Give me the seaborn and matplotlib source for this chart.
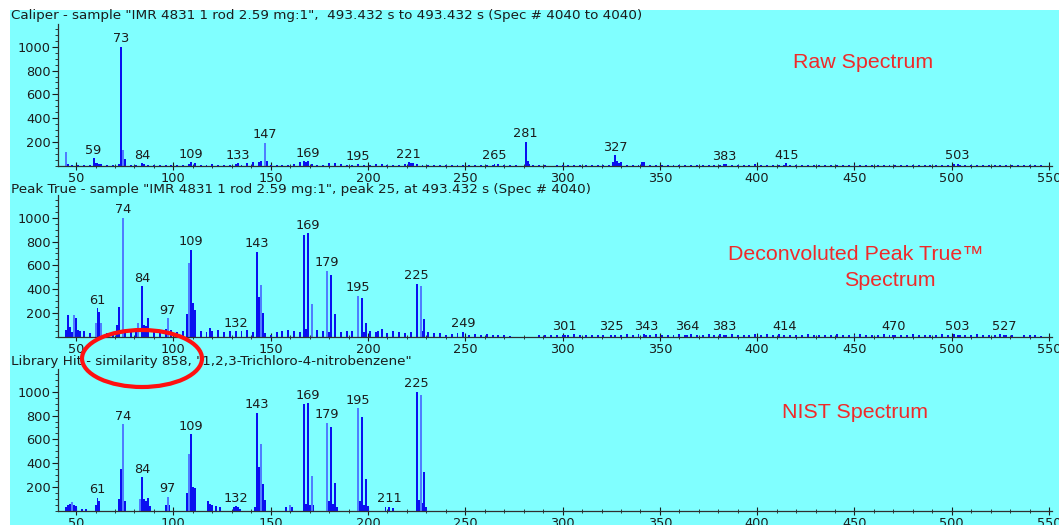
import matplotlib
matplotlib.use('Agg')
import matplotlib.pyplot as plt
from matplotlib.patches import Ellipse, Rectangle
from matplotlib.ticker import MultipleLocator
import seaborn as sns

# ---- Raw spectrum (top) ----
raw_dark_mz = [46, 59, 60, 61, 62, 72, 73, 75, 84, 85, 108, 109, 133, 144, 145, 148,
               167, 169, 183, 195, 207, 221, 223, 265, 281, 282, 283, 326, 327, 328,
               329, 341, 383, 399, 415, 503]
raw_dark_int = [20, 64, 22, 25, 20, 20, 1000, 55, 22, 15, 20, 32, 25, 35, 40, 40,
                40, 42, 25, 15, 20, 30, 22, 18, 205, 40, 20, 30, 92, 40,
                25, 36, 15, 15, 25, 20]
raw_light_mz = [45, 74, 147]
raw_light_int = [117, 136, 194]
# baseline noise, m/z 42, 45, ... 549
raw_noise = [0, 20, 12, 10, 8, 6, 15, 18, 8, 6,
             15, 25, 10, 12, 15, 8, 10, 6, 8, 10,
             8, 10, 20, 22, 12, 10, 15, 8, 6, 10,
             18, 12, 25, 30, 35, 12, 8, 10, 8, 12,
             15, 30, 35, 20, 10, 12, 22, 25, 18, 8,
             12, 10, 8, 12, 18, 10, 8, 10, 12, 15,
             25, 20, 10, 8, 10, 12, 10, 8, 6, 8,
             10, 12, 10, 8, 8, 15, 10, 8, 6, 0,
             30, 10, 8, 6, 0, 8, 10, 8, 6, 8,
             8, 10, 8, 12, 8, 35, 30, 12, 8, 6,
             30, 10, 8, 10, 8, 6, 8, 10, 8, 10,
             8, 10, 8, 12, 15, 10, 8, 10, 12, 15,
             10, 8, 12, 10, 8, 10, 12, 8, 6, 8,
             8, 10, 6, 8, 10, 8, 6, 8, 10, 8,
             6, 8, 10, 8, 6, 8, 10, 8, 6, 8,
             10, 8, 12, 15, 12, 10, 8, 6, 8, 10,
             8, 6, 8, 10, 8, 6, 8, 10, 6, 0]
raw_labels = [59, 73, 84, 109, 133, 147, 169, 195, 221, 265, 281, 327, 383, 415, 503]

# ---- Deconvoluted Peak True spectrum (middle) ----
pt_dark_mz = [46, 47, 50, 52, 61, 62, 71, 72, 84, 85, 86, 87, 96, 107, 109, 110, 111,
              119, 132, 143, 144, 146, 167, 169, 181, 183, 197, 199, 205, 225, 229,
              249, 301, 325, 343, 364, 383, 414, 470, 503, 527]
pt_dark_int = [183, 87, 157, 50, 242, 213, 100, 250, 424, 100, 90, 160, 70, 194, 733, 284, 228,
               78, 50, 716, 334, 205, 851, 868, 520, 194, 326, 120, 50, 447, 152,
               45, 20, 20, 20, 20, 20, 20, 20, 20, 20]
pt_light_mz = [49, 60, 63, 74, 82, 97, 108, 145, 171, 179, 195, 227]
pt_light_int = [185, 115, 115, 1000, 115, 157, 621, 435, 275, 556, 345, 424]
pt_noise = [0, 60, 40, 60, 50, 30, 40, 60, 30, 40,
            60, 50, 40, 50, 60, 70, 50, 60, 50, 60,
            40, 50, 60, 70, 50, 40, 50, 60, 40, 50,
            40, 50, 60, 40, 50, 30, 20, 40, 50, 60,
            50, 40, 70, 70, 60, 50, 40, 50, 40, 50,
            50, 60, 40, 50, 40, 70, 30, 50, 40, 30,
            40, 60, 50, 40, 30, 30, 20, 25, 30, 45,
            20, 25, 20, 25, 15, 20, 15, 10, 0, 0,
            0, 0, 15, 20, 15, 20, 15, 20, 25, 20,
            15, 20, 15, 20, 0, 15, 20, 25, 20, 25,
            25, 20, 25, 20, 15, 20, 25, 20, 25, 20,
            20, 25, 20, 25, 20, 25, 20, 15, 20, 25,
            20, 25, 20, 25, 20, 20, 15, 20, 25, 20,
            20, 15, 20, 25, 20, 15, 20, 25, 20, 15,
            20, 25, 20, 20, 15, 20, 25, 20, 15, 20,
            20, 25, 20, 25, 20, 15, 20, 25, 20, 15,
            20, 25, 20, 15, 0, 15, 20, 15, 10, 0]
pt_labels = [61, 74, 84, 97, 109, 132, 143, 169, 179, 195, 225, 249, 301, 325, 343,
             364, 383, 414, 470, 503, 527]

# ---- NIST library spectrum (bottom) ----
nist_dark_mz = [45, 46, 47, 49, 50, 53, 55, 60, 61, 62, 72, 73, 75, 84, 85, 86, 87, 88,
                96, 98, 107, 109, 110, 111, 118, 119, 120, 122, 124, 131, 132, 133, 134,
                142, 143, 144, 146, 147, 158, 161, 167, 168, 169, 170, 172, 180, 181,
                182, 183, 184, 196, 197, 198, 199, 200, 209, 211, 213, 225, 226, 228,
                229, 230]
nist_dark_int = [30, 50, 60, 50, 40, 20, 20, 50, 112, 80, 100, 352, 80, 285, 100, 84, 112, 40,
                 50, 50, 150, 642, 200, 190, 80, 60, 50, 40, 30, 30, 40, 35, 20,
                 30, 824, 370, 230, 90, 30, 30, 894, 60, 902, 50, 50, 80, 701,
                 60, 232, 30, 80, 790, 50, 268, 40, 35, 35, 25, 1000, 90, 70,
                 327, 30]
nist_light_mz = [48, 74, 83, 97, 108, 145, 160, 171, 179, 195, 227]
nist_light_int = [78, 726, 100, 120, 478, 559, 50, 293, 740, 860, 972]
nist_labels = [61, 74, 84, 97, 109, 132, 143, 169, 179, 195, 211, 225]

titles = ['Caliper - sample "IMR 4831 1 rod 2.59 mg:1",  493.432 s to 493.432 s (Spec # 4040 to 4040)',
          'Peak True - sample "IMR 4831 1 rod 2.59 mg:1", peak 25, at 493.432 s (Spec # 4040)',
          'Library Hit - similarity 858, "1,2,3-Trichloro-4-nitrobenzene"']

BG = '#80ffff'
DARK = '#0a10f0'
LIGHT = '#4f7dff'
RED = '#f02a2a'
TXT = '#1c1c1c'

sns.set_style('ticks')
plt.rcParams['font.family'] = ['DejaVu Sans']

W, H = 1059, 525
fig = plt.figure(figsize=(W / 100, H / 100), dpi=100)
fig.patch.set_facecolor('white')
fig.add_artist(Rectangle((10 / W, 0), 1 - 10 / W, 1 - 10 / H, transform=fig.transFigure,
                         facecolor=BG, edgecolor='none', zorder=-10))


def px(x, y):
    """ Pixel position (from top left) to figure fraction. """
    return x / W, 1 - y / H


def draw_bars(ax, mz, intensity, color):
    sns.histplot(x=mz, weights=intensity, discrete=True, shrink=1.0, color=color,
                 alpha=1, linewidth=0, ax=ax)


def draw_panel(ax, dark, light, noise, labels):
    if noise is not None:
        noise_mz = list(range(42, 550, 3))
        draw_bars(ax, noise_mz, noise, DARK)
    draw_bars(ax, dark[0], dark[1], DARK)
    draw_bars(ax, light[0], light[1], LIGHT)

    peaks = {}
    for mz_list, int_list in (dark, light):
        for m, v in zip(mz_list, int_list):
            peaks[m] = max(peaks.get(m, 0), v)
    for lab in labels:
        top = max(v for m, v in peaks.items() if abs(m - lab) <= 2)
        ax.annotate(str(lab), (lab, top), xytext=(0, 1), textcoords='offset points',
                    ha='center', va='bottom', fontsize=9.3, color=TXT)

    ax.set_facecolor('none')
    ax.set_xlim(40.7, 551.5)
    ax.set_ylim(0, 1190)
    ax.set_xlabel('')
    ax.set_ylabel('')
    ax.xaxis.set_major_locator(MultipleLocator(50))
    ax.xaxis.set_minor_locator(MultipleLocator(10))
    ax.set_yticks([200, 400, 600, 800, 1000])
    ax.yaxis.set_minor_locator(MultipleLocator(50))
    ax.tick_params(axis='x', which='major', direction='inout', length=6, width=0.8,
                   labelsize=9.3, pad=1, colors=TXT)
    ax.tick_params(axis='x', which='minor', direction='inout', length=3, width=0.6, colors=TXT)
    ax.tick_params(axis='y', which='major', direction='out', length=4, width=0.8,
                   labelsize=9.3, pad=1, colors=TXT)
    ax.tick_params(axis='y', which='minor', direction='out', length=2, width=0.6, colors=TXT)
    sns.despine(ax=ax)
    for side in ('left', 'bottom'):
        ax.spines[side].set_color('#303030')
        ax.spines[side].set_linewidth(0.9)


left = 58 / W
width = (1052 - 58) / W
panel_h = 142 / H
baselines = [166, 337, 511]
title_y = [15, 189, 362]

panels = [((raw_dark_mz, raw_dark_int), (raw_light_mz, raw_light_int), raw_noise, raw_labels),
          ((pt_dark_mz, pt_dark_int), (pt_light_mz, pt_light_int), pt_noise, pt_labels),
          ((nist_dark_mz, nist_dark_int), (nist_light_mz, nist_light_int), None, nist_labels)]

for base, ty, title, (dark, light, noise, labels) in zip(baselines, title_y, titles, panels):
    ax = fig.add_axes([left, 1 - base / H, width, panel_h])
    draw_panel(ax, dark, light, noise, labels)
    fig.text(*px(11, ty), title, ha='left', va='center', fontsize=9.7, color=TXT)

red_font = dict(color=RED, fontsize=15.4, family=['Liberation Sans', 'DejaVu Sans'],
                ha='center', va='center')
fig.text(*px(863, 62), 'Raw Spectrum', **red_font)
fig.text(*px(856, 255), 'Deconvoluted Peak True\u2122', **red_font)
fig.text(*px(890, 281), 'Spectrum', **red_font)
fig.text(*px(855, 412), 'NIST Spectrum', **red_font)

cx, cy = px(142, 358.5)
fig.add_artist(Ellipse((cx, cy), 120 / W, 57 / H, transform=fig.transFigure,
                       fill=False, edgecolor='#ff1010', linewidth=3, zorder=20))

fig.savefig('out.png', dpi=100)
